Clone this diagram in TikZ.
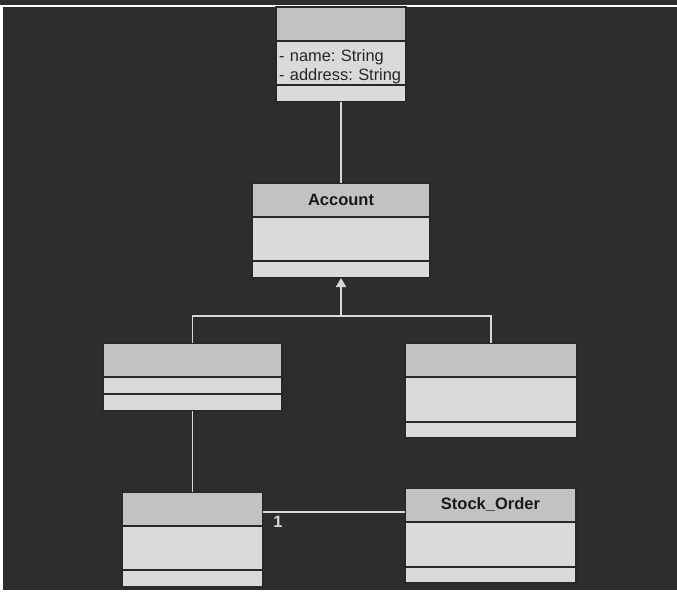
\documentclass[tikz,border=0pt]{standalone}
\usepackage{fontspec}
\setmainfont{Liberation Sans}
\frenchspacing
\usetikzlibrary{arrows.meta,positioning}
\definecolor{canvasbg}{RGB}{45,45,45}
\definecolor{headgray}{RGB}{194,194,194}
\definecolor{partgray}{RGB}{218,218,218}
\definecolor{linegray}{RGB}{215,215,215}
\definecolor{edgedark}{RGB}{40,40,40}

\begin{document}
\begin{tikzpicture}[
  x=1pt, y=-1pt,
  classhead/.style={
    draw=edgedark, line width=1.2pt, fill=headgray,
    inner sep=0pt, outer sep=0pt, minimum height=34pt,
    font=\fontsize{16.5}{19}\selectfont\bfseries, text=black!90
  },
  classpart/.style={
    draw=edgedark, line width=1.2pt, fill=partgray,
    inner xsep=3pt, inner ysep=0pt, outer sep=0pt, align=left,
    font=\fontsize{16.4}{19}\selectfont, text=black!85
  },
  conn/.style={draw=linegray, line width=1.8pt},
  inherit/.style={conn, -{Triangle[width=10pt,length=9pt,fill=linegray]}},
  mult/.style={font=\fontsize{16.5}{18}\selectfont\bfseries, text=linegray}
]
\useasboundingbox (0,0) rectangle (677,596);
\fill[white] (0,0) rectangle (677,596);
\fill[canvasbg] (0,0) rectangle (677,5);
\fill[canvasbg] (3,7.5) rectangle (677,590);

% top class
\node[classhead, minimum width=130pt, anchor=north] (personhead) at (341,7) {};
\node[classpart, minimum width=130pt, minimum height=44pt, text width=124pt, text height=20pt,
  below=0pt of personhead] (personattr) {- name: String\\\mbox{- address: String}};
\node[classpart, minimum width=130pt, minimum height=17pt, below=0pt of personattr] (personops) {};

% Account
\node[classhead, minimum width=178pt, anchor=north] (accounthead) at (341,183) {Account};
\node[classpart, minimum width=178pt, minimum height=44pt, below=0pt of accounthead] (accountattr) {};
\node[classpart, minimum width=178pt, minimum height=17pt, below=0pt of accountattr] (accountops) {};

% left subclass
\node[classhead, minimum width=179pt, anchor=north] (lefthead) at (192.5,343) {};
\node[classpart, minimum width=179pt, minimum height=17pt, below=0pt of lefthead] (leftattr) {};
\node[classpart, minimum width=179pt, minimum height=17pt, below=0pt of leftattr] (leftops) {};

% right subclass
\node[classhead, minimum width=172pt, anchor=north] (righthead) at (491,343) {};
\node[classpart, minimum width=172pt, minimum height=45pt, below=0pt of righthead] (rightattr) {};
\node[classpart, minimum width=172pt, minimum height=16pt, below=0pt of rightattr] (rightops) {};

% bottom left class
\node[classhead, minimum width=141pt, anchor=north] (holderhead) at (192.5,492) {};
\node[classpart, minimum width=141pt, minimum height=44pt, below=0pt of holderhead] (holderattr) {};
\node[classpart, minimum width=141pt, minimum height=17pt, below=0pt of holderattr] (holderops) {};

% Stock_Order
\node[classhead, minimum width=171pt, anchor=north] (orderhead) at (490.5,488) {Stock\_Order};
\node[classpart, minimum width=171pt, minimum height=45pt, below=0pt of orderhead] (orderattr) {};
\node[classpart, minimum width=171pt, minimum height=16pt, below=0pt of orderattr] (orderops) {};

% connectors
\draw[conn] (personops.south) -- (accounthead.north);
\coordinate (split) at (341,316);
\draw[conn] (lefthead.north) |- (split) -| (righthead.north);
\draw[inherit] (split) -- (accountops.south);
\draw[conn] (leftops.south) -- (holderhead.north);
\draw[conn] ([yshift=-3pt]holderhead.east) -- ([yshift=-3pt]holderhead.east -| orderhead.west);
\node[mult] (onelabel) at (278,522) {1};
\end{tikzpicture}
\end{document}
